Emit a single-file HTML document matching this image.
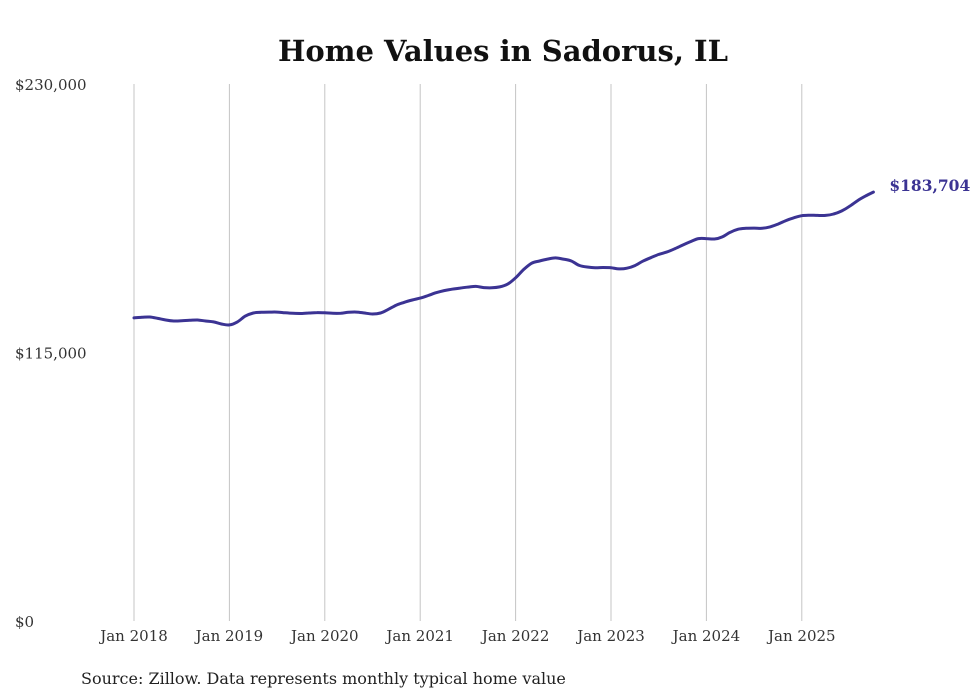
<!DOCTYPE html>
<html><head><meta charset="utf-8"><style>
body{margin:0;background:#fff;}
svg{display:block;font-family:"DejaVu Serif","Liberation Serif",serif;}
</style></head><body>
<svg id="chart" width="980" height="699">
<text x="503" y="61" text-anchor="middle" font-size="29" font-weight="bold" fill="#111">Home Values in Sadorus, IL</text>
<g id="grid"></g>
<g id="yaxis"></g>
<g id="xaxis"></g>
<g id="series"></g>
<text x="81" y="684" font-size="16" fill="#222">Source: Zillow. Data represents monthly typical home value</text>
</svg>
<script>
const yTicks=[0,115000,230000];
const yTickLabels=["$0","$115,000","$230,000"];
const xTickLabels=["Jan 2018","Jan 2019","Jan 2020","Jan 2021","Jan 2022","Jan 2023","Jan 2024","Jan 2025"];
const xTickMonths=[0,12,24,36,48,60,72,84];
const values=[129.8,130.1,130.2,129.6,128.9,128.5,128.6,128.8,128.9,128.5,128.1,127.2,
126.8,128.1,130.6,131.9,132.2,132.3,132.3,132.0,131.8,131.7,131.9,132.1,
132.0,131.8,131.8,132.2,132.3,131.9,131.5,131.9,133.5,135.3,136.5,137.5,
138.3,139.4,140.6,141.5,142.1,142.6,143.0,143.3,142.8,142.7,143.1,144.3,
147.0,150.5,153.2,154.2,155.0,155.5,155.0,154.2,152.3,151.6,151.3,151.4,
151.3,150.8,151.1,152.2,154.1,155.6,157.0,158.0,159.4,161.0,162.5,163.8,
163.8,163.6,164.5,166.5,167.8,168.2,168.3,168.2,168.8,170.0,171.5,172.7,
173.6,173.8,173.7,173.7,174.3,175.6,177.6,180.0,182.0,183.704].map(v=>v*1000);
const lastLabel="$183,704";

const NS="http://www.w3.org/2000/svg";
const x=i=>134+i*(95.4/12);
const y=v=>621-v/230000*537;
function mk(tag,attrs,parent,text){const e=document.createElementNS(NS,tag);for(const k in attrs)e.setAttribute(k,attrs[k]);if(text!=null)e.textContent=text;parent.appendChild(e);return e;}
const grid=document.getElementById('grid'),ya=document.getElementById('yaxis'),xa=document.getElementById('xaxis'),ser=document.getElementById('series');
xTickMonths.forEach((m,i)=>{
  const l=mk('line',{x1:x(m),x2:x(m),y1:84,y2:621,stroke:'#c4c4c4','stroke-width':1},grid);
  
  
  const t=mk('text',{x:x(m),y:641,'text-anchor':'middle','font-size':15,fill:'#333'},xa,xTickLabels[i]);
  
  
});
yTicks.forEach((v,i)=>{
  const t=mk('text',{x:15,y:y(v)+6,'font-size':15,fill:'#333'},ya,yTickLabels[i]);
  
  
});
const pts=values.map((v,i)=>[x(i),y(v)]);
let d='M'+pts[0][0].toFixed(1)+','+pts[0][1].toFixed(1);
for(let i=0;i<pts.length-1;i++){
  const p0=pts[Math.max(0,i-1)],p1=pts[i],p2=pts[i+1],p3=pts[Math.min(pts.length-1,i+2)];
  const c1=[p1[0]+(p2[0]-p0[0])/6,p1[1]+(p2[1]-p0[1])/6];
  const c2=[p2[0]-(p3[0]-p1[0])/6,p2[1]-(p3[1]-p1[1])/6];
  d+='C'+c1[0].toFixed(1)+','+c1[1].toFixed(1)+' '+c2[0].toFixed(1)+','+c2[1].toFixed(1)+' '+p2[0].toFixed(1)+','+p2[1].toFixed(1);
}
const p=mk('path',{d:d,fill:'none',stroke:'#3b3393','stroke-width':3,'stroke-linejoin':'round','stroke-linecap':'round'},ser);


const n=values.length-1;
const lab=mk('text',{x:x(n)+16,y:y(values[n])-1,'font-size':15.5,'font-weight':'bold',fill:'#3b3393'},ser,lastLabel);


</script>
</body></html>
